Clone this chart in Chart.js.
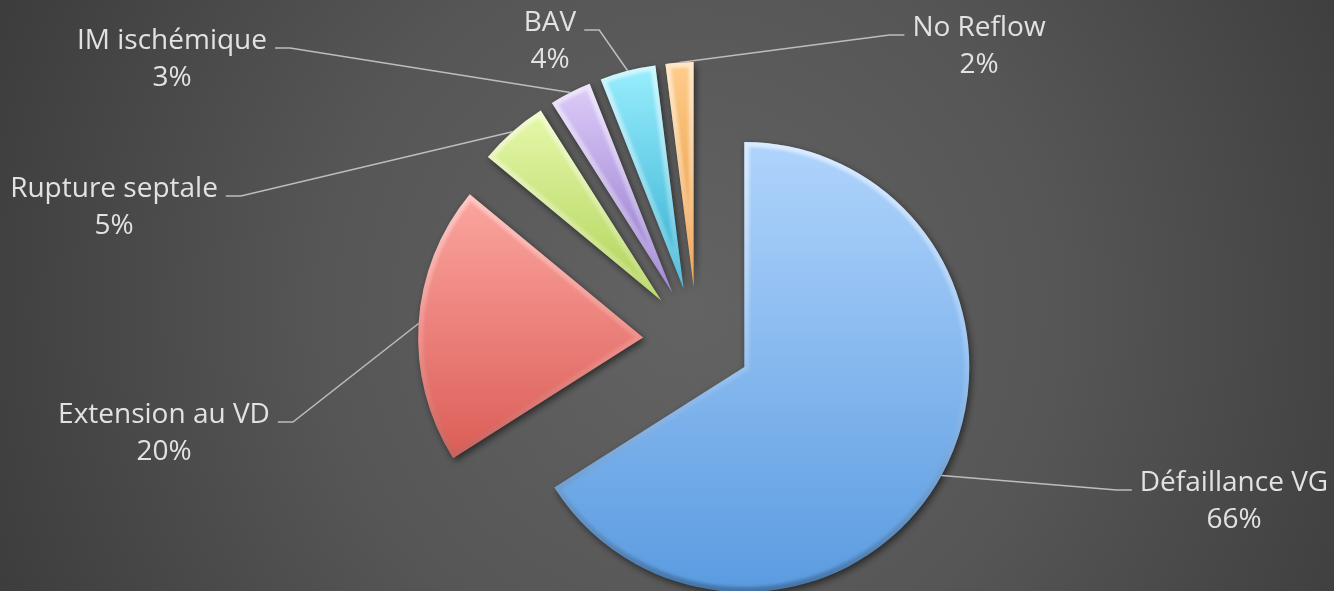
<!DOCTYPE html>
<html>
<head>
<meta charset="utf-8">
<script src="https://cdn.jsdelivr.net/npm/chart.js@4/dist/chart.umd.min.js"></script>
<style>
  html, body { margin: 0; padding: 0; background: #4a4a4a; }
  #wrap { width: 1334px; height: 591px; }
</style>
</head>
<body>
<div id="wrap"><canvas id="chart" width="1334" height="591"></canvas></div>
<script>
// Causes of death / complications, share of cases (%)
const categories = ['Défaillance VG', 'Extension au VD', 'Rupture septale', 'IM ischémique', 'BAV', 'No Reflow'];
const shares = [66, 20, 5, 3, 4, 2];

// Fill palette: light tone at the top of each slice, deeper tone at the bottom
const paletteTop    = ['#b0d4fc', '#fca59f', '#e6f8ab', '#ddccf9', '#99eefd', '#fecd8d'];
const paletteBottom = ['#5a9be0', '#dc5d57', '#b0d257', '#8f73c9', '#33aed1', '#e99233'];

// Where each label block sits, relative to the pie centre (x = text centre, y = first baseline)
const labelSpots = [
  { dx: 537,  dy: 150 },
  { dx: -533, dy: 82 },
  { dx: -583, dy: -144 },
  { dx: -525, dy: -292 },
  { dx: -147, dy: -310 },
  { dx: 282,  dy: -305 }
];

const EXPLODE = 54;          // distance every slice is pulled out from the centre
const FONT = '28px "Open Sans"';
const LINE_GAP = 37;

const total = shares.reduce((a, b) => a + b, 0);

// Vertical gradient spanning the bounding box of one exploded slice
function sliceGradient(context) {
  const chart = context.chart;
  const area = chart.chartArea;
  const i = context.dataIndex;
  if (!area) return paletteTop[i];
  const r = Math.min(area.right - area.left, area.bottom - area.top) / 2;
  const cx = (area.left + area.right) / 2;
  const cy = (area.top + area.bottom) / 2;
  let before = 0;
  for (let k = 0; k < i; k++) before += shares[k];
  const a0 = -Math.PI / 2 + before / total * Math.PI * 2;
  const a1 = a0 + shares[i] / total * Math.PI * 2;
  const mid = (a0 + a1) / 2;
  const oy = cy + Math.sin(mid) * EXPLODE;
  const ys = [oy, oy + Math.sin(a0) * r, oy + Math.sin(a1) * r];
  for (const t of [-Math.PI / 2, Math.PI / 2, Math.PI * 1.5]) {
    if (t > a0 && t < a1) ys.push(oy + Math.sin(t) * r);
  }
  const top = Math.min(...ys), bottom = Math.max(...ys);
  const g = chart.ctx.createLinearGradient(0, top, 0, bottom);
  g.addColorStop(0, paletteTop[i]);
  g.addColorStop(1, paletteBottom[i]);
  return g;
}

function arcPath(ctx, arc) {
  ctx.beginPath();
  ctx.moveTo(arc.x, arc.y);
  ctx.arc(arc.x, arc.y, arc.outerRadius, arc.startAngle, arc.endAngle);
  ctx.closePath();
}

const backdrop = {
  id: 'backdrop',
  beforeDraw(chart) {
    const { ctx, width, height } = chart;
    const g = ctx.createRadialGradient(690, 310, 0, 690, 310, 820);
    g.addColorStop(0, '#636363');
    g.addColorStop(0.45, '#565656');
    g.addColorStop(1, '#383838');
    ctx.save();
    ctx.fillStyle = g;
    ctx.fillRect(0, 0, width, height);
    ctx.restore();
  }
};

const explodeSlices = {
  id: 'explodeSlices',
  afterDatasetsUpdate(chart) {
    chart.getDatasetMeta(0).data.forEach(arc => {
      const mid = (arc.startAngle + arc.endAngle) / 2;
      arc.x += Math.cos(mid) * EXPLODE;
      arc.y += Math.sin(mid) * EXPLODE;
    });
  },
  beforeDatasetsDraw(chart) {
    const ctx = chart.ctx;
    ctx.save();
    ctx.shadowColor = 'rgba(0,0,0,0.55)';
    ctx.shadowBlur = 7;
    ctx.shadowOffsetX = 2;
    ctx.shadowOffsetY = 3;
  },
  afterDatasetsDraw(chart) {
    const ctx = chart.ctx;
    ctx.restore();
    // soft bevel along the slice edges: light on top, shaded underneath
    chart.getDatasetMeta(0).data.forEach(arc => {
      const top = arc.y - arc.outerRadius, bottom = arc.y + arc.outerRadius;
      ctx.save();
      arcPath(ctx, arc);
      ctx.clip();
      const g = ctx.createLinearGradient(0, top, 0, bottom);
      g.addColorStop(0, 'rgba(255,255,255,0.55)');
      g.addColorStop(0.5, 'rgba(255,255,255,0.15)');
      g.addColorStop(1, 'rgba(0,0,0,0.25)');
      ctx.filter = 'blur(1.5px)';
      ctx.strokeStyle = g;
      ctx.lineWidth = 10;
      ctx.lineJoin = 'miter';
      arcPath(ctx, arc);
      ctx.stroke();
      ctx.restore();
    });
  }
};

const calloutLabels = {
  id: 'calloutLabels',
  afterDraw(chart) {
    const ctx = chart.ctx;
    const area = chart.chartArea;
    const cx = (area.left + area.right) / 2;
    const cy = (area.top + area.bottom) / 2;
    ctx.save();
    ctx.font = FONT;
    ctx.textAlign = 'center';
    ctx.textBaseline = 'alphabetic';
    chart.getDatasetMeta(0).data.forEach((arc, i) => {
      const mid = (arc.startAngle + arc.endAngle) / 2;
      const px = arc.x + Math.cos(mid) * arc.outerRadius;
      const py = arc.y + Math.sin(mid) * arc.outerRadius;
      const spot = labelSpots[i];
      const tx = cx + spot.dx;
      const ty = cy + spot.dy;
      const name = categories[i];
      const pct = Math.round(shares[i] / total * 100) + '%';
      const w = ctx.measureText(name).width;
      const ly = ty - 1;
      let endX, elbowX;
      if (tx < px) {
        endX = tx + w / 2 + 8;
        elbowX = endX + 15;
      } else {
        endX = tx - w / 2 - 8;
        elbowX = endX - 15;
      }
      ctx.strokeStyle = '#bdbdbd';
      ctx.lineWidth = 1.5;
      ctx.beginPath();
      ctx.moveTo(px, py);
      ctx.lineTo(elbowX, ly);
      ctx.lineTo(endX, ly);
      ctx.stroke();
      ctx.fillStyle = '#e2e2e2';
      ctx.fillText(name, tx, ty);
      ctx.fillText(pct, tx, ty + LINE_GAP);
    });
    ctx.restore();
  }
};

new Chart(document.getElementById('chart'), {
  type: 'pie',
  data: {
    labels: categories,
    datasets: [{
      data: shares,
      backgroundColor: sliceGradient,
      borderWidth: 0,
      clip: false
    }]
  },
  options: {
    responsive: false,
    animation: false,
    events: [],
    layout: { padding: { top: 116, bottom: 25, left: 60, right: 0 } },
    plugins: {
      legend: { display: false },
      tooltip: { enabled: false }
    }
  },
  plugins: [backdrop, explodeSlices, calloutLabels]
});
</script>
</body>
</html>
